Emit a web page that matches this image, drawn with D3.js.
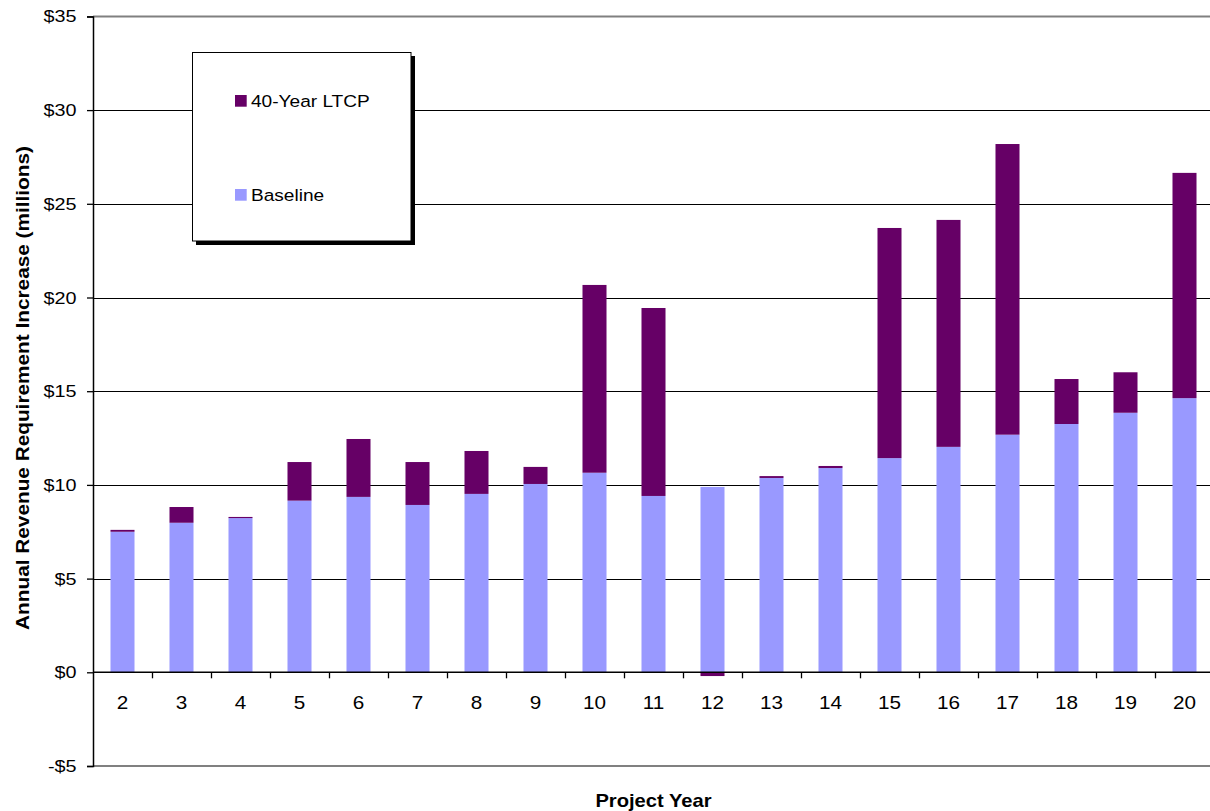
<!DOCTYPE html>
<html>
<head>
<meta charset="utf-8">
<script src="https://cdn.jsdelivr.net/npm/d3@7"></script>
<style>
  html, body { margin: 0; padding: 0; background: #fff; }
  svg { display: block; font-family: Arial, "Liberation Sans", sans-serif; }
</style>
</head>
<body>
<svg id="chart" width="1210" height="811"></svg>
<script>
// Project years on the category axis
const years = ["2","3","4","5","6","7","8","9","10","11","12","13","14","15","16","17","18","19","20"];
// Annual revenue requirement increase, $ millions
const baseline = [7.50, 7.98, 8.23, 9.16, 9.36, 8.93, 9.52, 10.05, 10.65, 9.41, 9.89, 10.37, 10.90, 11.43, 12.03, 12.68, 13.25, 13.85, 14.63];
const ltcp40   = [0.10, 0.84, 0.06, 2.06, 3.09, 2.29, 2.29, 0.91, 10.02, 10.03, -0.20, 0.10, 0.11, 12.28, 12.11, 15.51, 2.40, 2.16, 12.02];
// Value-axis ticks
const yTicks = [-5, 0, 5, 10, 15, 20, 25, 30, 35];
const seriesNames = ["Baseline", "40-Year LTCP"];
const seriesColors = ["#9999FF", "#660066"];

const svg = d3.select("#chart");
const plotLeft = 93, plotRight = 1214, plotTop = 16.4, plotBottom = 766;
const SX = 1.15; // horizontal text widening

const x = d3.scaleBand()
  .domain(years)
  .range([plotLeft, plotRight])
  .paddingInner(0.593)
  .paddingOuter(0.2965);

const y = d3.scaleLinear().domain([-5, 35]).range([plotBottom, plotTop]);

const rows = years.map((yr, i) => ({ year: yr, "Baseline": baseline[i], "40-Year LTCP": ltcp40[i] }));
const stacked = d3.stack().keys(seriesNames).offset(d3.stackOffsetDiverging)(rows);

// Horizontal gridlines
svg.append("g").selectAll("line")
  .data(yTicks.filter(t => t > -5 && t < 35 && t !== 0))
  .join("line")
  .attr("x1", plotLeft).attr("x2", plotRight)
  .attr("y1", d => Math.round(y(d)) + 0.5).attr("y2", d => Math.round(y(d)) + 0.5)
  .attr("stroke", "#000").attr("stroke-width", 1);

// Plot area top/bottom border
svg.append("g").selectAll("line")
  .data([-5, 35])
  .join("line")
  .attr("x1", plotLeft).attr("x2", plotRight)
  .attr("y1", d => y(d)).attr("y2", d => y(d))
  .attr("stroke", "#808080").attr("stroke-width", 2);

// Stacked bars
svg.append("g").selectAll("g")
  .data(stacked)
  .join("g")
  .attr("fill", (d, i) => seriesColors[i])
  .selectAll("rect")
  .data(d => d)
  .join("rect")
  .attr("x", d => x(d.data.year))
  .attr("width", x.bandwidth())
  .attr("y", d => y(Math.max(d[0], d[1])))
  .attr("height", d => Math.abs(y(d[0]) - y(d[1])));

// Value axis
const yAxis = svg.append("g")
  .attr("transform", `translate(${plotLeft},0)`)
  .call(d3.axisLeft(y).tickValues(yTicks).tickSize(6).tickPadding(10)
    .tickFormat(d => (d < 0 ? "-$" : "$") + Math.abs(d)));
yAxis.select(".domain").attr("stroke", "#000").attr("stroke-width", 1.5);
yAxis.selectAll(".tick line").attr("stroke", "#000").attr("stroke-width", 1.3);
yAxis.selectAll(".tick text")
  .attr("font-size", 17.2)
  .attr("fill", "#000")
  .attr("x", -16.5 / SX)
  .attr("transform", `scale(${SX},1)`);

// Zero line
svg.append("line")
  .attr("x1", plotLeft).attr("x2", plotRight)
  .attr("y1", y(0)).attr("y2", y(0))
  .attr("stroke", "#000").attr("stroke-width", 1.5);

// Category tick marks between years
const half = x.step() * x.paddingInner() / 2;
svg.append("g").selectAll("line")
  .data(years.slice(1))
  .join("line")
  .attr("x1", d => Math.round(x(d) - half) + 0.5)
  .attr("x2", d => Math.round(x(d) - half) + 0.5)
  .attr("y1", y(0)).attr("y2", y(0) + 6)
  .attr("stroke", "#000").attr("stroke-width", 1.3);

// Category labels
svg.append("g").selectAll("text")
  .data(years)
  .join("text")
  .attr("transform", d => `translate(${x(d) + x.bandwidth() / 2},709) scale(${SX},1)`)
  .attr("text-anchor", "middle")
  .attr("font-size", 18)
  .text(d => d);

// Axis titles
svg.append("text")
  .attr("transform", `translate(${(plotLeft + plotRight) / 2},806.5) scale(1.12,1)`)
  .attr("text-anchor", "middle")
  .attr("font-weight", "bold")
  .attr("font-size", 18)
  .text("Project Year");

svg.append("text")
  .attr("transform", `translate(29,388) rotate(-90) scale(1.155,1)`)
  .attr("text-anchor", "middle")
  .attr("font-weight", "bold")
  .attr("font-size", 18)
  .text("Annual Revenue Requirement Increase (millions)");

// Legend with drop shadow
const lg = svg.append("g");
lg.append("rect").attr("x", 196).attr("y", 56).attr("width", 219).attr("height", 189).attr("fill", "#000");
lg.append("rect").attr("x", 192.5).attr("y", 52.5).attr("width", 218.5).attr("height", 188.5)
  .attr("fill", "#fff").attr("stroke", "#000").attr("stroke-width", 1);
const legendItems = [
  { name: seriesNames[1], color: seriesColors[1], y: 95 },
  { name: seriesNames[0], color: seriesColors[0], y: 189 }
];
const li = lg.selectAll("g.item").data(legendItems).join("g").attr("class", "item");
li.append("rect")
  .attr("x", 235).attr("y", d => d.y)
  .attr("width", 11.7).attr("height", 11.7)
  .attr("fill", d => d.color);
li.append("text")
  .attr("transform", d => `translate(251,${d.y + 12}) scale(1.11,1)`)
  .attr("font-size", 17.2)
  .text(d => d.name);
</script>
</body>
</html>
